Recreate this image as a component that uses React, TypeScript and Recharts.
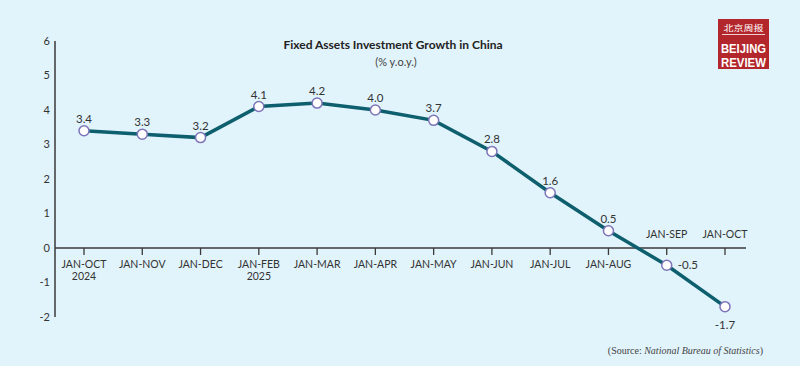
import React from 'react';
import { LineChart, Line, XAxis, YAxis, ReferenceLine, LabelList } from 'recharts';

const periods = ['2024-10', '2024-11', '2024-12', '2025-02', '2025-03', '2025-04', '2025-05', '2025-06', '2025-07', '2025-08', '2025-09', '2025-10'];
const periodLabels = ['JAN-OCT', 'JAN-NOV', 'JAN-DEC', 'JAN-FEB', 'JAN-MAR', 'JAN-APR', 'JAN-MAY', 'JAN-JUN', 'JAN-JUL', 'JAN-AUG', 'JAN-SEP', 'JAN-OCT'];
const yearLabels = ['2024', '', '', '2025', '', '', '', '', '', '', '', ''];
const growth = [3.4, 3.3, 3.2, 4.1, 4.2, 4.0, 3.7, 2.8, 1.6, 0.5, -0.5, -1.7];
const yTicks = [-2, -1, 0, 1, 2, 3, 4, 5, 6];

const data = periods.map((p, i) => ({ period: p, value: growth[i] }));

const W = 800;
const H = 366;
const M = { top: 41, right: 54, left: 15, bottom: 29 };
const XAXIS_H = 20;
const PLOT_TOP = M.top;
const PLOT_H = H - M.top - M.bottom - XAXIS_H;
const Y_MIN = -2;
const Y_MAX = 6;
const zeroY = PLOT_TOP + (PLOT_H * Y_MAX) / (Y_MAX - Y_MIN);

const FONT = 'Lato, "Open Sans", sans-serif';
const TEXT = '#333';
const AXIS = '#3a3a3a';

const XTick = (props: any) => {
  const { x, index } = props;
  const above = growth[index] < 0;
  return (
    <g>
      <line x1={x} x2={x} y1={zeroY} y2={zeroY + 7} stroke={AXIS} strokeWidth={1.3} />
      <text x={x} y={above ? zeroY - 10 : zeroY + 20} textAnchor="middle" fontSize={10.5} fontFamily={FONT} fill={TEXT}>
        {periodLabels[index]}
      </text>
      {yearLabels[index] ? (
        <text x={x} y={zeroY + 32} textAnchor="middle" fontSize={10.5} fontFamily={FONT} fill={TEXT}>
          {yearLabels[index]}
        </text>
      ) : null}
    </g>
  );
};

const ValueLabel = (props: any) => {
  const { x, y, value, index } = props;
  let tx = x;
  let ty = y - 8;
  let anchor: 'middle' | 'start' = 'middle';
  const last = index === growth.length - 1;
  if (value < 0 && !last) {
    tx = x + 11;
    ty = y + 4;
    anchor = 'start';
  } else if (value < 0 && last) {
    ty = y + 22;
  }
  return (
    <text x={tx} y={ty} textAnchor={anchor} fontSize={11.5} fontFamily={FONT} fill={TEXT}>
      {value.toFixed(1)}
    </text>
  );
};

export default function App() {
  return (
    <div style={{ position: 'absolute', left: 0, top: 0, width: W, height: H, background: '#e1f3fb', overflow: 'hidden' }}>
      <LineChart width={W} height={H} data={data} margin={M}>
        <XAxis
          dataKey="period"
          height={XAXIS_H}
          axisLine={false}
          tickLine={false}
          tickSize={0}
          interval={0}
          padding={{ left: 29, right: 21 }}
          tick={<XTick />}
        />
        <YAxis
          width={40}
          domain={[Y_MIN, Y_MAX]}
          ticks={yTicks}
          interval={0}
          tickLine={false}
          tickSize={0}
          tickMargin={5}
          axisLine={{ stroke: AXIS, strokeWidth: 1.5 }}
          tick={{ fontSize: 11, fontFamily: FONT, fill: TEXT }}
        />
        <ReferenceLine y={0} stroke={AXIS} strokeWidth={1.5} />
        <Line
          type="linear"
          dataKey="value"
          stroke="#0e5f6e"
          strokeWidth={3.5}
          dot={{ r: 5, fill: '#ffffff', stroke: '#7d74b9', strokeWidth: 1.5 }}
          activeDot={false}
          isAnimationActive={false}
        >
          <LabelList dataKey="value" content={<ValueLabel />} />
        </Line>
      </LineChart>
      <svg width={W} height={H} style={{ position: 'absolute', left: 0, top: 0, pointerEvents: 'none' }}>
        <text x={393} y={49} textAnchor="middle" fontSize={12} fontWeight="bold" fontFamily={FONT} fill="#222">
          Fixed Assets Investment Growth in China
        </text>
        <text x={396} y={66} textAnchor="middle" fontSize={11} fontFamily={FONT} fill="#444">
          (% y.o.y.)
        </text>
        <rect x={718} y={19} width={51} height={50} fill="#b3262b" />
        <text x={743.5} y={31} textAnchor="middle" fontSize={8} fontFamily='"Noto Sans CJK SC"' fill="#fff" textLength={40} lengthAdjust="spacingAndGlyphs">
          北京周报
        </text>
        <line x1={722} x2={765} y1={34.5} y2={34.5} stroke="#fff" strokeWidth={0.8} />
        <text x={721} y={52.5} fontSize={12.5} fontWeight="bold" fontFamily='"Liberation Sans Narrow", "Liberation Sans", sans-serif' fill="#fff" textLength={45} lengthAdjust="spacingAndGlyphs">
          BEIJING
        </text>
        <text x={721} y={67} fontSize={12.5} fontWeight="bold" fontFamily='"Liberation Sans Narrow", "Liberation Sans", sans-serif' fill="#fff" textLength={45} lengthAdjust="spacingAndGlyphs">
          REVIEW
        </text>
        <text x={763} y={354} textAnchor="end" fontSize={10} fontFamily='"Liberation Serif", serif' fill="#444">
          (Source: <tspan fontStyle="italic">National Bureau of Statistics</tspan>)
        </text>
      </svg>
    </div>
  );
}
